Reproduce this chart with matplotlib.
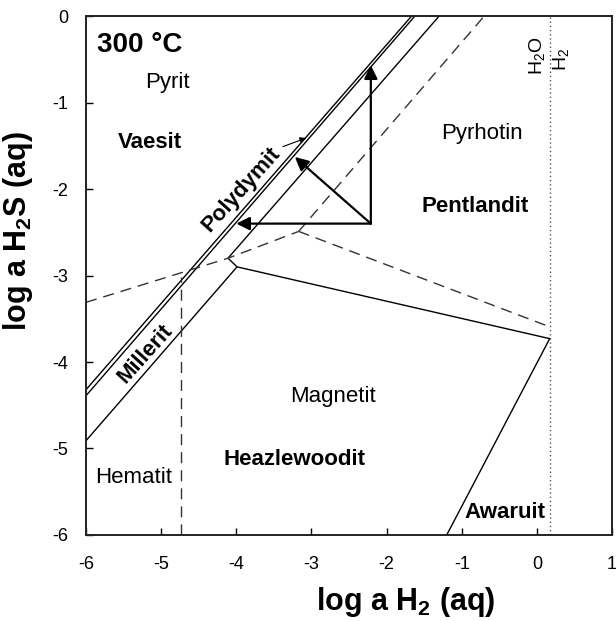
import matplotlib
matplotlib.use('Agg')
import matplotlib.pyplot as plt

plt.rcParams['font.family'] = ['Liberation Sans', 'DejaVu Sans']
plt.rcParams['axes.unicode_minus'] = False
plt.rcParams['mathtext.fontset'] = 'custom'
plt.rcParams['mathtext.rm'] = 'Liberation Sans'
plt.rcParams['mathtext.it'] = 'Liberation Sans'
plt.rcParams['mathtext.bf'] = 'Liberation Sans:bold'

# phase boundaries, log a H2 (x) vs log a H2S (y)
pyrite_x = [-6, -1.667]
pyrite_y = [-4.32, 0]
vaesite_x = [-6, -1.623]
vaesite_y = [-4.39, 0]
millerite_x = [-6, -3.99, -4.11, -1.30]
millerite_y = [-4.91, -2.90, -2.80, 0]
pent_heaz_x = [-3.99, 0.17]
pent_heaz_y = [-2.90, -3.73]
awaruit_x = [0.17, -1.20]
awaruit_y = [-3.73, -6]

# iron oxide / sulfide boundaries (dashed)
fe_left_x = [-6, -4.11, -3.17]
fe_left_y = [-3.31, -2.80, -2.49]
fe_right_x = [-3.17, 0.13]
fe_right_y = [-2.49, -3.58]
fe_up_x = [-3.17, -0.70]
fe_up_y = [-2.49, 0]
hem_mag_x = [-4.74, -4.74]
hem_mag_y = [-6, -3.02]
water_x = 0.17

# reaction arrows
arrow_base = (-2.21, -2.40)
arrow_tips = [(-2.21, -0.57), (-4.00, -2.40), (-3.22, -1.63)]

fig = plt.figure(figsize=(6.16, 6.21), dpi=100)
ax = fig.add_axes([0.1396, 0.1385, 0.854, 0.8357])

lw = 1.0
ax.plot(pyrite_x, pyrite_y, color='black', lw=lw)
ax.plot(vaesite_x, vaesite_y, color='black', lw=lw)
ax.plot(millerite_x, millerite_y, color='black', lw=lw)
ax.plot(pent_heaz_x, pent_heaz_y, color='black', lw=lw)
ax.plot(awaruit_x, awaruit_y, color='black', lw=lw)

dash = (0, (8, 5))
ax.plot(fe_left_x, fe_left_y, color='#333333', lw=lw, linestyle=dash)
ax.plot(fe_right_x, fe_right_y, color='#333333', lw=lw, linestyle=dash)
ax.plot(fe_up_x, fe_up_y, color='#333333', lw=lw, linestyle=dash)
ax.plot(hem_mag_x, hem_mag_y, color='#333333', lw=lw, linestyle=dash)
ax.axvline(water_x, color='#555555', lw=1.0, linestyle=(0, (1, 2)))

for tip in arrow_tips:
    ax.annotate('', xy=tip, xytext=arrow_base,
                arrowprops=dict(arrowstyle='-|>', color='black', lw=1.6,
                                mutation_scale=20, shrinkA=0, shrinkB=0))

# labels
fs = 16
ax.text(-5.854, -0.416, '300 °C', fontsize=20, fontweight='bold', ha='left', va='baseline')
ax.text(-4.92, -0.83, 'Pyrit', fontsize=fs, ha='center', va='baseline')
ax.text(-5.15, -1.53, 'Vaesit', fontsize=fs, fontweight='bold', ha='center', va='baseline')
ax.text(-3.93, -2.0, 'Polydymit', fontsize=fs, fontweight='bold', ha='center', va='center',
        rotation=48, rotation_mode='anchor')
ax.annotate('', xy=(-3.07, -1.41), xytext=(-3.38, -1.51),
            arrowprops=dict(arrowstyle='-|>', color='black', lw=0.8,
                            mutation_scale=9, shrinkA=0, shrinkB=0))
ax.text(-0.73, -1.42, 'Pyrhotin', fontsize=fs, ha='center', va='baseline')
ax.text(-0.82, -2.27, 'Pentlandit', fontsize=fs, fontweight='bold', ha='center', va='baseline')
ax.text(-5.21, -3.90, 'Millerit', fontsize=fs, fontweight='bold', ha='center', va='center',
        rotation=48, rotation_mode='anchor')
ax.text(-2.71, -4.46, 'Magnetit', fontsize=fs, ha='center', va='baseline')
ax.text(-3.22, -5.19, 'Heazlewoodit', fontsize=fs, fontweight='bold', ha='center', va='baseline')
ax.text(-5.36, -5.40, 'Hematit', fontsize=fs, ha='center', va='baseline')
ax.text(-0.42, -5.80, 'Awaruit', fontsize=fs, fontweight='bold', ha='center', va='baseline')
ax.text(0.0, -0.46, 'H$_2$O', fontsize=14, rotation=90, ha='center', va='center')
ax.text(0.32, -0.50, 'H$_2$', fontsize=14, rotation=90, ha='center', va='center')

ax.set_xlim(-6, 1)
ax.set_ylim(-6, 0)
ax.set_xticks(range(-6, 2))
ax.set_yticks(range(-6, 1))
ax.tick_params(direction='in', length=5, width=1.0, labelsize=13)
ax.tick_params(axis='x', pad=15)
ax.tick_params(axis='y', pad=13)
for s in ax.spines.values():
    s.set_linewidth(1.4)
    s.set_color('#222222')
ax.set_xlabel('log a H$_\\mathbf{2}$ (aq)', fontsize=22, fontweight='bold')
ax.set_ylabel('log a H$_\\mathbf{2}$S (aq)', fontsize=22, fontweight='bold')
ax.xaxis.set_label_coords(0.608, -0.096)
ax.yaxis.set_label_coords(-0.097, 0.586)

fig.savefig('out.png', dpi=100)
